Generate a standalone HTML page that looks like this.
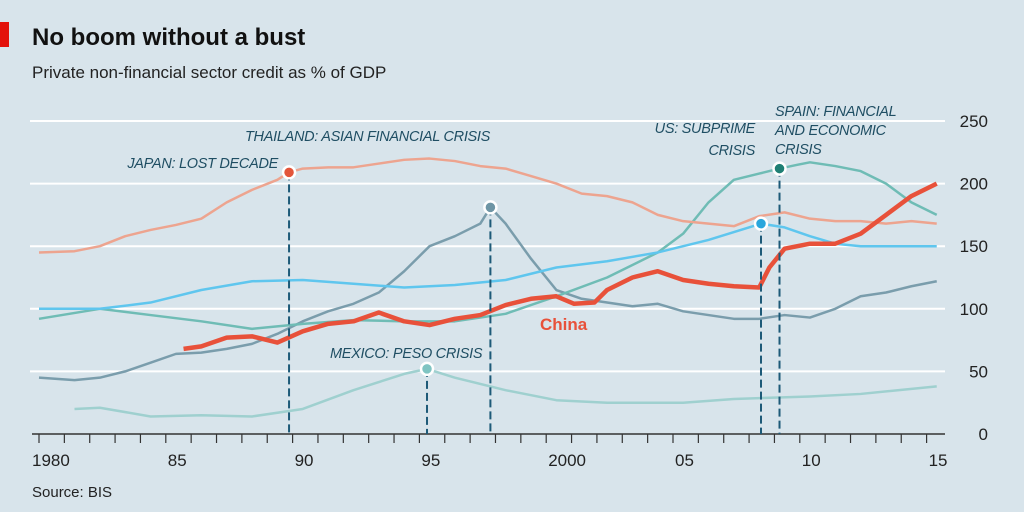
<!DOCTYPE html>
<html><head><meta charset="utf-8"><style>
body{margin:0;background:#d8e4eb;}
svg{display:block;font-family:"Liberation Sans",sans-serif;}
.ann{font-style:italic;font-size:14.5px;fill:#1f4e63;letter-spacing:-0.3px}
</style></head><body>
<svg width="1024" height="512">
<rect x="0" y="0" width="1024" height="512" fill="#d8e4eb"/>
<rect x="0" y="22" width="9" height="25" fill="#e3120b"/>
<text x="32" y="45" font-size="24" font-weight="bold" fill="#111">No boom without a bust</text>
<text x="32" y="78" font-size="17" fill="#222">Private non-financial sector credit as % of GDP</text>
<text x="32" y="497" font-size="15" fill="#222">Source: BIS</text>
<g id="grid"></g><g id="lines"></g><g id="marks"></g>
</svg>
<script>
const yTicks=[0,50,100,150,200,250];
const xTickLabels=["1980","85","90","95","2000","05","10","15"];
const japanYears=[1979.6,1981,1982,1983,1984,1985,1986,1987,1988,1989,1989.46,1990,1991,1992,1993,1994,1995,1996,1997,1998,1999,2000,2001,2002,2003,2004,2005,2006,2007,2008,2009,2010,2011,2012,2013,2014,2015];
const japanVals=[145,146,150,158,163,167,172,185,195,203,209,212,213,213,216,219,220,218,214,212,206,200,192,190,185,175,170,168,166,174,177,172,170,170,168,170,168];
const thaiYears=[1979.6,1981,1982,1983,1984,1985,1986,1987,1988,1989,1990,1991,1992,1993,1994,1995,1996,1997,1997.4,1998,1999,2000,2001,2002,2003,2004,2005,2006,2007,2008,2009,2010,2011,2012,2013,2014,2015];
const thaiVals=[45,43,45,50,57,64,65,68,72,80,90,98,104,113,130,150,158,168,181,168,140,115,108,105,102,104,98,95,92,92,95,93,100,110,113,118,122];
const usYears=[1979.6,1982,1984,1986,1988,1990,1992,1994,1996,1998,2000,2002,2004,2006,2008.07,2009,2010,2011,2012,2015];
const usVals=[100,100,105,115,122,123,120,117,119,123,133,138,145,155,168,165,158,152,150,150];
const spainYears=[1979.6,1982,1984,1986,1988,1990,1992,1994,1996,1998,2000,2002,2004,2005,2006,2007,2008,2008.8,2009.5,2010,2011,2012,2013,2014,2015];
const spainVals=[92,100,95,90,84,88,91,90,90,96,110,125,145,160,185,203,208,212,215,217,214,210,200,185,175];
const mexYears=[1981,1982,1984,1986,1988,1990,1992,1994,1994.9,1996,1998,2000,2002,2005,2007,2010,2012,2015];
const mexVals=[20,21,14,15,14,20,35,48,52,45,35,27,25,25,28,30,32,38];
const chinaYears=[1985.3,1986,1987,1988,1989,1990,1991,1992,1993,1994,1995,1996,1997,1998,1999,2000,2000.7,2001.5,2002,2003,2004,2005,2006,2007,2008,2008.4,2009,2010,2011,2012,2013,2014,2015];
const chinaVals=[68,70,77,78,73,82,88,90,97,90,87,92,95,103,108,110,104,105,115,125,130,123,120,118,117,133,148,152,152,160,175,190,200];
const events=[["japan",1989.46,209,"#e3553a"],["mexico",1994.9,52,"#7fc4c2"],["thailand",1997.4,181,"#6e95a5"],["us",2008.07,168,"#2aa6dc"],["spain",2008.8,212,"#1f7f74"]];
const X=y=>39+(y-1980)*25.36, XD=y=>X(y+0.4), Y=v=>434-v*1.252;
const NS="http://www.w3.org/2000/svg";
function mk(p,t,a){const e=document.createElementNS(NS,t);for(const k in a)e.setAttribute(k,a[k]);p.appendChild(e);return e;}
const g=document.getElementById('grid'),L=document.getElementById('lines'),M=document.getElementById('marks');
yTicks.forEach(v=>{if(v>0){const l=mk(g,'line',{x1:30,x2:945,y1:Y(v),y2:Y(v),stroke:'#fff','stroke-width':2});

}
const t=mk(g,'text',{x:988,y:Y(v)+6,'font-size':17,fill:'#222','text-anchor':'end'});t.textContent=v;

});
const ax=mk(g,'line',{x1:32,x2:945,y1:434,y2:434,stroke:'#333','stroke-width':1.5});


for(let y=1980;y<=2015;y++){const t=mk(g,'line',{x1:X(y),x2:X(y),y1:434,y2:443,stroke:'#333','stroke-width':1.2});

}
xTickLabels.forEach((s,i)=>{const t=mk(g,'text',{x:X(1980+5*i)+(i==0?-7:2),y:466,'font-size':17,fill:'#222'});t.textContent=s;

});
function line(xs,vs,c,w,n){const p=mk(L,'polyline',{points:xs.map((x,i)=>XD(x)+','+Y(vs[i])).join(' '),fill:'none',stroke:c,'stroke-width':w,'stroke-linejoin':'round'});

}
line(mexYears,mexVals,'#9fd0cf',2.5,'line-mexico');
line(thaiYears,thaiVals,'#7a9dac',2.5,'line-thailand');
line(spainYears,spainVals,'#6fbcb5',2.5,'line-spain');
line(usYears,usVals,'#5fc6ee',2.5,'line-us');
line(japanYears,japanVals,'#eda48f',2.5,'line-japan');
line(chinaYears,chinaVals,'#e8513a',4.5,'line-china');
events.forEach(e=>{const l=mk(M,'line',{x1:XD(e[1]),x2:XD(e[1]),y1:Y(e[2]),y2:434,stroke:'#1d5a78','stroke-width':2,'stroke-dasharray':'8,4'});


const c=mk(M,'circle',{cx:XD(e[1]),cy:Y(e[2]),r:6,fill:e[3],stroke:'#fff','stroke-width':2.5});

});
function ann(x,y,s,n,anchor){const t=mk(M,'text',{x:x,y:y,class:'ann','text-anchor':anchor||'start'});t.textContent=s;

}
ann(278,168,'JAPAN: LOST DECADE','label-japan','end');
ann(245,141,'THAILAND: ASIAN FINANCIAL CRISIS','label-thailand');
ann(755,133,'US: SUBPRIME','label-us','end');
ann(755,155,'CRISIS','label-us-2','end');
ann(775,116,'SPAIN: FINANCIAL','label-spain');
ann(775,135,'AND ECONOMIC','label-spain-2');
ann(775,154,'CRISIS','label-spain-3');
ann(330,358,'MEXICO: PESO CRISIS','label-mexico');
const ch=mk(M,'text',{x:540,y:330,'font-size':17,'font-weight':'bold',fill:'#e8513a'});ch.textContent='China';


</script>
</body></html>
